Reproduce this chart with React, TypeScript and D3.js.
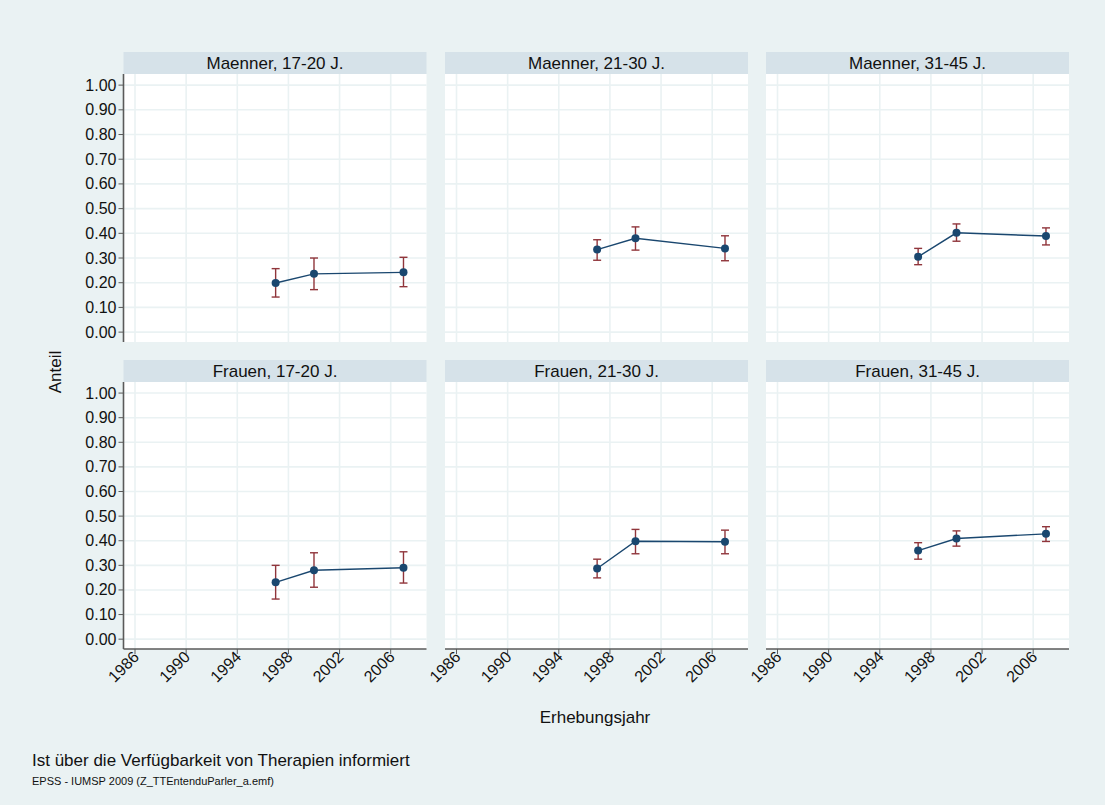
import React from "react";
import * as d3 from "d3";

// Survey years and panels
const years = [1997, 2000, 2007];
const panelTitles = [
  "Maenner, 17-20 J.",
  "Maenner, 21-30 J.",
  "Maenner, 31-45 J.",
  "Frauen, 17-20 J.",
  "Frauen, 21-30 J.",
  "Frauen, 31-45 J.",
];

// Estimated share per panel (same order as panelTitles)
const shareEstimate = [
  [0.199, 0.236, 0.242],
  [0.334, 0.38, 0.339],
  [0.305, 0.402, 0.389],
  [0.231, 0.28, 0.29],
  [0.287, 0.398, 0.396],
  [0.36, 0.409, 0.428],
];
// Lower and upper confidence limits
const shareLower = [
  [0.142, 0.172, 0.184],
  [0.291, 0.332, 0.289],
  [0.273, 0.368, 0.353],
  [0.163, 0.211, 0.228],
  [0.249, 0.347, 0.347],
  [0.325, 0.378, 0.397],
];
const shareUpper = [
  [0.257, 0.3, 0.303],
  [0.374, 0.426, 0.39],
  [0.339, 0.438, 0.422],
  [0.3, 0.351, 0.355],
  [0.325, 0.446, 0.443],
  [0.392, 0.44, 0.457],
];

const yTicks = [0, 0.1, 0.2, 0.3, 0.4, 0.5, 0.6, 0.7, 0.8, 0.9, 1.0];
const xTicks = [1986, 1990, 1994, 1998, 2002, 2006];

const W = 1105;
const H = 805;
const BG = "rgb(234,242,243)";
const STRIP = "rgb(214,226,233)";
const GRID = "rgb(234,242,243)";
const NAVY = "rgb(26,71,111)";
const MAROON = "rgb(144,53,59)";
const AXIS = "#5a5a5a";
const FONT = "Arial, 'Liberation Sans', Helvetica, sans-serif";

const colLeft = [123.5, 445, 766];
const panelW = 303;
const stripTop = [52, 360];
const stripH = 22;
const plotBottom = [342, 649];

export default function App() {
  const x = (c: number) =>
    d3.scaleLinear().domain([1985.1, 2008.8]).range([colLeft[c], colLeft[c] + panelW]);
  const y = (r: number) =>
    d3.scaleLinear().domain([-0.04, 1.045]).range([plotBottom[r], stripTop[r] + stripH]);

  const fmt = d3.format(".2f");

  return (
    <svg
      width={W}
      height={H}
      style={{ position: "absolute", left: 0, top: 0, display: "block" }}
      fontFamily={FONT}
    >
      <rect x={0} y={0} width={W} height={H} fill={BG} />
      {panelTitles.map((title, i) => {
        const r = Math.floor(i / 3);
        const c = i % 3;
        const xs = x(c);
        const ys = y(r);
        const [x0, x1] = xs.range();
        const [yb, yt] = ys.range();
        const line = d3
          .line<number>()
          .x((_, k) => xs(years[k]))
          .y((v) => ys(v));
        return (
          <g key={title}>
            <rect x={x0} y={stripTop[r]} width={x1 - x0} height={stripH} fill={STRIP} />
            <text
              x={(x0 + x1) / 2}
              y={stripTop[r] + stripH / 2 + 6}
              textAnchor="middle"
              fontSize={17}
              fill="#111"
            >
              {title}
            </text>
            <rect x={x0} y={yt} width={x1 - x0} height={yb - yt} fill="#fff" />
            {yTicks.map((t) => (
              <line key={"gy" + t} x1={x0} x2={x1} y1={ys(t)} y2={ys(t)} stroke={GRID} strokeWidth={1.6} />
            ))}
            {xTicks.map((t) => (
              <line key={"gx" + t} x1={xs(t)} x2={xs(t)} y1={yt} y2={yb} stroke={GRID} strokeWidth={1.6} />
            ))}
            {c === 0 && (
              <g>
                <line x1={x0} x2={x0} y1={yt} y2={yb} stroke={AXIS} strokeWidth={1.6} />
                {yTicks.map((t) => (
                  <g key={"ty" + t}>
                    <line x1={x0 - 5} x2={x0} y1={ys(t)} y2={ys(t)} stroke={AXIS} strokeWidth={1} />
                    <text x={x0 - 7} y={ys(t) + 5.5} textAnchor="end" fontSize={16} fill="#111">
                      {fmt(t)}
                    </text>
                  </g>
                ))}
              </g>
            )}
            {r === 1 && (
              <g>
                <line x1={x0} x2={x1} y1={yb} y2={yb} stroke={AXIS} strokeWidth={1.6} />
                {xTicks.map((t) => (
                  <g key={"tx" + t}>
                    <line x1={xs(t)} x2={xs(t)} y1={yb} y2={yb + 5} stroke={AXIS} strokeWidth={1} />
                    <text
                      transform={`translate(${xs(t) + 5},${yb + 9}) rotate(-45)`}
                      textAnchor="end"
                      fontSize={16}
                      fill="#111"
                    >
                      {t}
                    </text>
                  </g>
                ))}
              </g>
            )}
            <path d={line(shareEstimate[i]) || ""} fill="none" stroke={NAVY} strokeWidth={1.4} />
            {years.map((yr, k) => {
              const cx = xs(yr);
              const lo = ys(shareLower[i][k]);
              const hi = ys(shareUpper[i][k]);
              return (
                <g key={"e" + yr} stroke={MAROON} strokeWidth={1.4}>
                  <line x1={cx} x2={cx} y1={lo} y2={hi} />
                  <line x1={cx - 4} x2={cx + 4} y1={lo} y2={lo} />
                  <line x1={cx - 4} x2={cx + 4} y1={hi} y2={hi} />
                </g>
              );
            })}
            {years.map((yr, k) => (
              <circle key={"p" + yr} cx={xs(yr)} cy={ys(shareEstimate[i][k])} r={4} fill={NAVY} />
            ))}
          </g>
        );
      })}
      <text
        transform={`translate(61,372) rotate(-90)`}
        textAnchor="middle"
        fontSize={17}
        fill="#111"
      >
        Anteil
      </text>
      <text x={595} y={723} textAnchor="middle" fontSize={17} fill="#111">
        Erhebungsjahr
      </text>
      <text x={32} y={766} fontSize={17} fill="#111">
        Ist über die Verfügbarkeit von Therapien informiert
      </text>
      <text x={32} y={785} fontSize={11} fill="#111">
        EPSS - IUMSP 2009 (Z_TTEntenduParler_a.emf)
      </text>
    </svg>
  );
}
